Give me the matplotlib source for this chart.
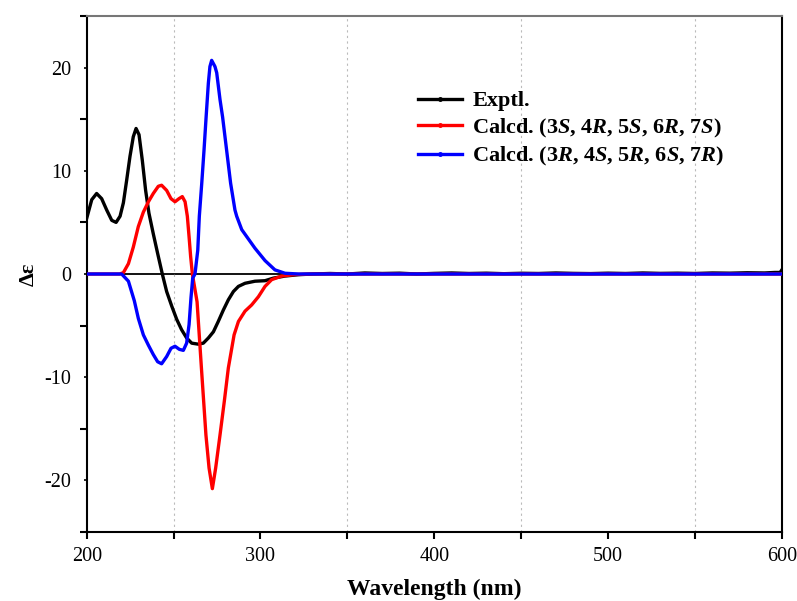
import matplotlib
matplotlib.use("Agg")
import matplotlib.pyplot as plt
from matplotlib.lines import Line2D
from matplotlib.ticker import FixedLocator

# ---------------- data ----------------
wl_exp = [200.0, 202.9, 205.7, 208.6, 211.5, 214.4, 216.9, 219.2, 221.1, 223.0, 224.9, 226.8, 228.4,
          230.1, 232.0, 233.9, 235.8, 238.3, 240.8, 243.5, 246.0, 248.9, 251.8, 254.6, 257.5, 260.4,
          264.2, 267.1, 270.0, 272.9, 275.7, 278.6, 281.5, 284.4, 287.3, 291.1, 296.8, 302.6, 307.4,
          314.1, 321.8, 330, 340, 350, 360, 370, 380, 390, 400, 410, 420, 430, 440, 450,
          460, 470, 480, 490, 500, 510, 520, 530, 540, 550, 560, 570, 580, 590, 596, 599, 600]
de_exp = [5.4, 7.2, 7.8, 7.3, 6.2, 5.2, 5.0, 5.6, 6.9, 9.1, 11.4, 13.3, 14.1,
          13.5, 11.0, 8.1, 5.9, 3.9, 2.0, 0.0, -1.7, -3.1, -4.4, -5.4, -6.2, -6.7,
          -6.8, -6.7, -6.2, -5.6, -4.6, -3.5, -2.5, -1.7, -1.2, -0.9, -0.7, -0.65, -0.4,
          -0.2, -0.07, 0.0, 0.05, 0.0, 0.1, 0.05, 0.08, 0.0, 0.06, 0.1, 0.05, 0.08, 0.03, 0.07,
          0.05, 0.1, 0.06, 0.04, 0.08, 0.05, 0.1, 0.06, 0.08, 0.05, 0.1, 0.08, 0.12, 0.1, 0.15, 0.15, 0.4]

wl_calc_s = [200, 210, 219, 221.1, 224.0, 226.8, 229.7, 232.6, 235.5, 238.3, 241.2, 243.1, 246.0,
             248.5, 250.8, 253.1, 255.0, 256.6, 257.9, 258.9, 259.8, 260.8, 263.5, 266.0, 268.6,
             270.4, 272.3, 274.2, 276.7, 279.2, 281.5, 284.8, 287.3, 291.1, 294.9, 298.8, 302.6,
             306.4, 312.2, 319.9, 330, 400, 500, 600]
de_calc_s = [0.0, 0.0, 0.0, 0.13, 1.0, 2.6, 4.6, 6.0, 7.0, 7.8, 8.5, 8.6, 8.1,
             7.3, 7.0, 7.3, 7.5, 7.0, 5.6, 3.6, 1.7, 0.0, -2.7, -9.1, -15.6,
             -18.8, -20.8, -18.8, -15.6, -12.3, -9.1, -5.9, -4.6, -3.6, -3.0, -2.2, -1.2,
             -0.55, -0.2, -0.05, 0.0, 0.0, 0.0, 0.0]

wl_calc_r = [200, 210, 220.1, 224.0, 227.4, 229.7, 232.6, 235.5, 238.3, 240.8, 243.1, 246.0, 248.5,
             250.8, 253.3, 255.6, 257.5, 258.9, 260.0, 261.0, 262.3, 263.9, 264.8, 266.2, 267.5,
             268.7, 270.0, 270.9, 271.9, 273.8, 274.8, 276.7, 278.2, 280.5, 282.8, 285.3, 286.3,
             289.2, 293.0, 296.8, 302.6, 308.3, 314.1, 322, 400, 500, 600]
de_calc_r = [0.0, 0.0, 0.0, -0.7, -2.6, -4.3, -5.9, -6.9, -7.8, -8.5, -8.7, -8.0, -7.2,
             -7.0, -7.3, -7.4, -6.7, -4.9, -2.3, -0.4, 0.0, 2.3, 5.6, 8.8, 12.0,
             15.2, 18.5, 20.1, 20.7, 20.1, 19.5, 16.9, 15.2, 12.0, 8.8, 6.2, 5.6,
             4.3, 3.4, 2.5, 1.3, 0.4, 0.07, 0.0, 0.0, 0.0, 0.0]

labels = ["Exptl.",
          r"Calcd. (3$S$, 4$R$, 5$S$, 6$R$, 7$S$)",
          r"Calcd. (3$R$, 4$S$, 5$R$, 6$S$, 7$R$)"]
colors = ["black", "red", "blue"]

x_major = [200, 300, 400, 500, 600]
x_minor = [250, 350, 450, 550]
y_major = [-20, -10, 0, 10, 20]
y_minor = [-25, -15, -5, 5, 15, 25]

# ---------------- style ----------------
plt.rcParams['font.family'] = ['Liberation Serif', 'DejaVu Serif']
plt.rcParams['mathtext.fontset'] = 'custom'
plt.rcParams['mathtext.rm'] = 'Liberation Serif:bold'
plt.rcParams['mathtext.it'] = 'Liberation Serif:italic:bold'
plt.rcParams['mathtext.bf'] = 'Liberation Serif:bold'
plt.rcParams['axes.unicode_minus'] = False

fig = plt.figure(figsize=(7.97, 6.01), dpi=100)
ax = fig.add_axes([0.1088, 0.1148, 0.8722, 0.8586])

ax.axhline(0, color='black', lw=1.3, zorder=1)
ax.plot(wl_exp, de_exp, color=colors[0], lw=2.4, zorder=2, solid_joinstyle='round')
ax.plot(wl_calc_s, de_calc_s, color=colors[1], lw=2.4, zorder=3, solid_joinstyle='round')
ax.plot(wl_calc_r, de_calc_r, color=colors[2], lw=2.4, zorder=4, solid_joinstyle='round')

ax.set_xlim(200, 600)
ax.set_ylim(-25, 25)

ax.xaxis.set_major_locator(FixedLocator(x_major))
ax.xaxis.set_minor_locator(FixedLocator(x_minor))
ax.yaxis.set_major_locator(FixedLocator(y_major))
ax.yaxis.set_minor_locator(FixedLocator(y_minor))

ax.tick_params(axis='x', which='major', direction='out', length=5, width=1.5, labelsize=14.5, pad=6)
ax.tick_params(axis='x', which='minor', direction='out', length=5, width=1.5)
ax.tick_params(axis='y', which='major', direction='out', length=2, width=1.2, labelsize=14.5, pad=9)
ax.tick_params(axis='y', which='minor', direction='out', length=5, width=1.5)
ax.grid(True, which='minor', axis='x', color='#bbbbbb', linestyle=(0, (2, 3)), lw=0.8)

for s in ax.spines.values():
    s.set_linewidth(1.5)
ax.spines['top'].set_color('#777777')

ax.set_xlabel("Wavelength (nm)", fontsize=17, fontweight='bold', labelpad=9)
ax.set_ylabel("Δε", fontsize=16, fontweight='bold', labelpad=4)

handles = [Line2D([], [], color=c, lw=2.4, marker='o', markersize=2.5) for c in colors]
leg = ax.legend(handles, labels, loc='upper left', bbox_to_anchor=(0.4765, 0.855),
                frameon=False, fontsize=16, handlelength=2.0, handletextpad=0.45,
                labelspacing=0.24, numpoints=1, borderpad=0, borderaxespad=0)
for t in leg.get_texts():
    t.set_fontweight('bold')

fig.savefig("out.png", dpi=100)
